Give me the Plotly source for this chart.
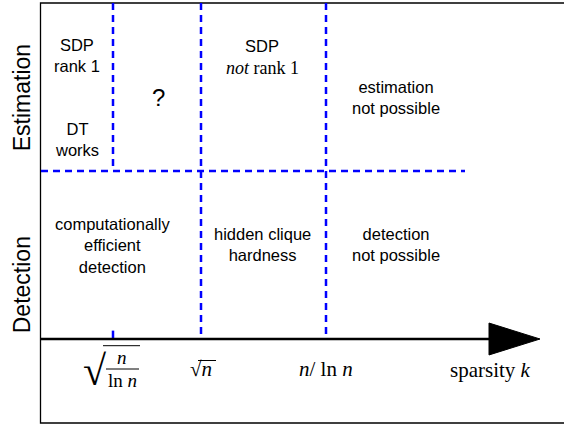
import plotly.graph_objects as go

# ---- data (schematic positions on the sparsity axis) ----
threshold_names = ["sqrt(n/ln n)", "sqrt(n)", "n/ln n"]
threshold_k = [72, 160, 285]          # positions of the thresholds on the k axis
regime_boundary = 1.0                  # detection (0..1) / estimation (1..2)
regime_top = 2.0
axis_start = 0
axis_arrow_base = 448
axis_arrow_tip = 499
estimation_line_end = 424

row_labels = ["Estimation", "Detection"]
row_label_y = [1.433, 0.32]

region_texts = ["SDP<br>rank 1", "DT<br>works", "?", "SDP",
                "estimation<br>not possible",
                "computationally<br>efficient<br>detection",
                "hidden clique<br>hardness", "detection<br>not possible"]
region_x = [36, 36, 117, 221, 355, 71, 221, 355]
region_y = [1.688, 1.185, 1.44, 1.744, 1.435, 0.554, 0.56, 0.56]
region_size = [16.5, 16.5, 24, 16.5, 16.5, 16.5, 16.5, 16.5]

BLUE = "#0000ff"
SANS = "Liberation Sans, Arial, sans-serif"
SERIF = "Liberation Serif, Times New Roman, serif"
PX = 168.0  # pixels per regime unit (layout scale)


def py(p):
    return (339 - p) / PX


fig = go.Figure()

# frame
fig.add_trace(go.Scatter(x=[700, axis_start - 0.5, axis_start - 0.5, 700],
                         y=[regime_top, regime_top, py(423), py(423)],
                         mode="lines", line=dict(color="black", width=1.3),
                         hoverinfo="skip"))

dash = "7px,5px"
LW = 2.5
# horizontal estimation/detection boundary (from left frame to the right)
fig.add_trace(go.Scatter(x=[axis_start, threshold_k[0]],
                         y=[regime_boundary, regime_boundary],
                         mode="lines", line=dict(color=BLUE, width=LW, dash=dash),
                         hoverinfo="skip"))
fig.add_trace(go.Scatter(x=[threshold_k[0], estimation_line_end],
                         y=[regime_boundary, regime_boundary],
                         mode="lines", line=dict(color=BLUE, width=LW, dash=dash),
                         hoverinfo="skip"))
# first threshold only in the estimation part
fig.add_trace(go.Scatter(x=[threshold_k[0], threshold_k[0]],
                         y=[regime_top, regime_boundary],
                         mode="lines", line=dict(color=BLUE, width=LW, dash=dash),
                         hoverinfo="skip"))
# other thresholds across both parts
for k in threshold_k[1:]:
    fig.add_trace(go.Scatter(x=[k, k], y=[regime_top, 0],
                             mode="lines", line=dict(color=BLUE, width=LW, dash=dash),
                             hoverinfo="skip"))
# tick for the first threshold
fig.add_trace(go.Scatter(x=[threshold_k[0], threshold_k[0]], y=[0, 0.05],
                         mode="lines", line=dict(color=BLUE, width=2.5),
                         hoverinfo="skip"))

# sparsity axis
fig.add_trace(go.Scatter(x=[axis_start, axis_arrow_base], y=[0, 0],
                         mode="lines", line=dict(color="black", width=2.5),
                         hoverinfo="skip"))
fig.add_trace(go.Scatter(x=[axis_arrow_base, axis_arrow_tip, axis_arrow_base, axis_arrow_base],
                         y=[0.095, 0, -0.095, 0.095], mode="lines", fill="toself",
                         fillcolor="black", line=dict(color="black", width=1),
                         hoverinfo="skip"))

ann = []
for t, yv in zip(row_labels, row_label_y):
    ann.append(dict(x=-19, y=yv, text=t, textangle=-90, showarrow=False,
                    font=dict(family=SANS, size=23, color="black"),
                    xanchor="center", yanchor="middle"))
for t, xv, yv, s in zip(region_texts, region_x, region_y, region_size):
    ann.append(dict(x=xv, y=yv, text=t, showarrow=False,
                    font=dict(family=SANS, size=s, color="black"),
                    xanchor="center", yanchor="middle"))
# serif second line of middle estimation region
ann.append(dict(x=221, y=py(68), text="<i>not</i> rank 1", showarrow=False,
                font=dict(family=SERIF, size=18, color="black"),
                xanchor="center", yanchor="middle"))

# threshold labels
k0, k1, k2 = threshold_k
# sqrt(n / ln n)
ann.append(dict(x=k0 - 18, y=py(371), text="√", showarrow=False,
                font=dict(family=SERIF, size=42, color="black"),
                xanchor="center", yanchor="middle"))
ann.append(dict(x=k0 + 9, y=py(357), text="<i>n</i>", showarrow=False,
                font=dict(family=SERIF, size=19, color="black"),
                xanchor="center", yanchor="middle"))
ann.append(dict(x=k0 + 9, y=py(380), text="ln <i>n</i>", showarrow=False,
                font=dict(family=SERIF, size=19, color="black"),
                xanchor="center", yanchor="middle"))
# sqrt(n)
ann.append(dict(x=k1, y=py(369), text="√<i>n</i>", showarrow=False,
                font=dict(family=SERIF, size=21, color="black"),
                xanchor="center", yanchor="middle"))
# n / ln n
ann.append(dict(x=k2, y=py(369), text="<i>n</i>/ ln <i>n</i>", showarrow=False,
                font=dict(family=SERIF, size=21, color="black"),
                xanchor="center", yanchor="middle"))
# axis title
ann.append(dict(x=449, y=py(370), text="sparsity <i>k</i>", showarrow=False,
                font=dict(family=SERIF, size=21, color="black"),
                xanchor="center", yanchor="middle"))

shapes = [
    # fraction bar and radical overline for sqrt(n/ln n)
    dict(type="line", xref="x", yref="y", x0=k0 - 7, x1=k0 + 26, y0=py(369), y1=py(369),
         line=dict(color="black", width=1)),
    dict(type="line", xref="x", yref="y", x0=k0 - 10, x1=k0 + 27, y0=py(345.7), y1=py(345.7),
         line=dict(color="black", width=1)),
    # overline for sqrt(n)
    dict(type="line", xref="x", yref="y", x0=k1 - 3, x1=k1 + 15, y0=py(360.5), y1=py(360.5),
         line=dict(color="black", width=1)),
]

fig.update_layout(
    width=564, height=424, margin=dict(l=0, r=0, t=0, b=0),
    paper_bgcolor="white", plot_bgcolor="white", showlegend=False,
    xaxis=dict(range=[-41, 523], visible=False, fixedrange=True),
    yaxis=dict(range=[py(424), py(0)], visible=False, fixedrange=True),
    annotations=ann, shapes=shapes,
)

fig.write_html("out.html", config={"displayModeBar": False},
               post_script="document.body.style.margin='0';document.body.style.overflow='hidden';")
